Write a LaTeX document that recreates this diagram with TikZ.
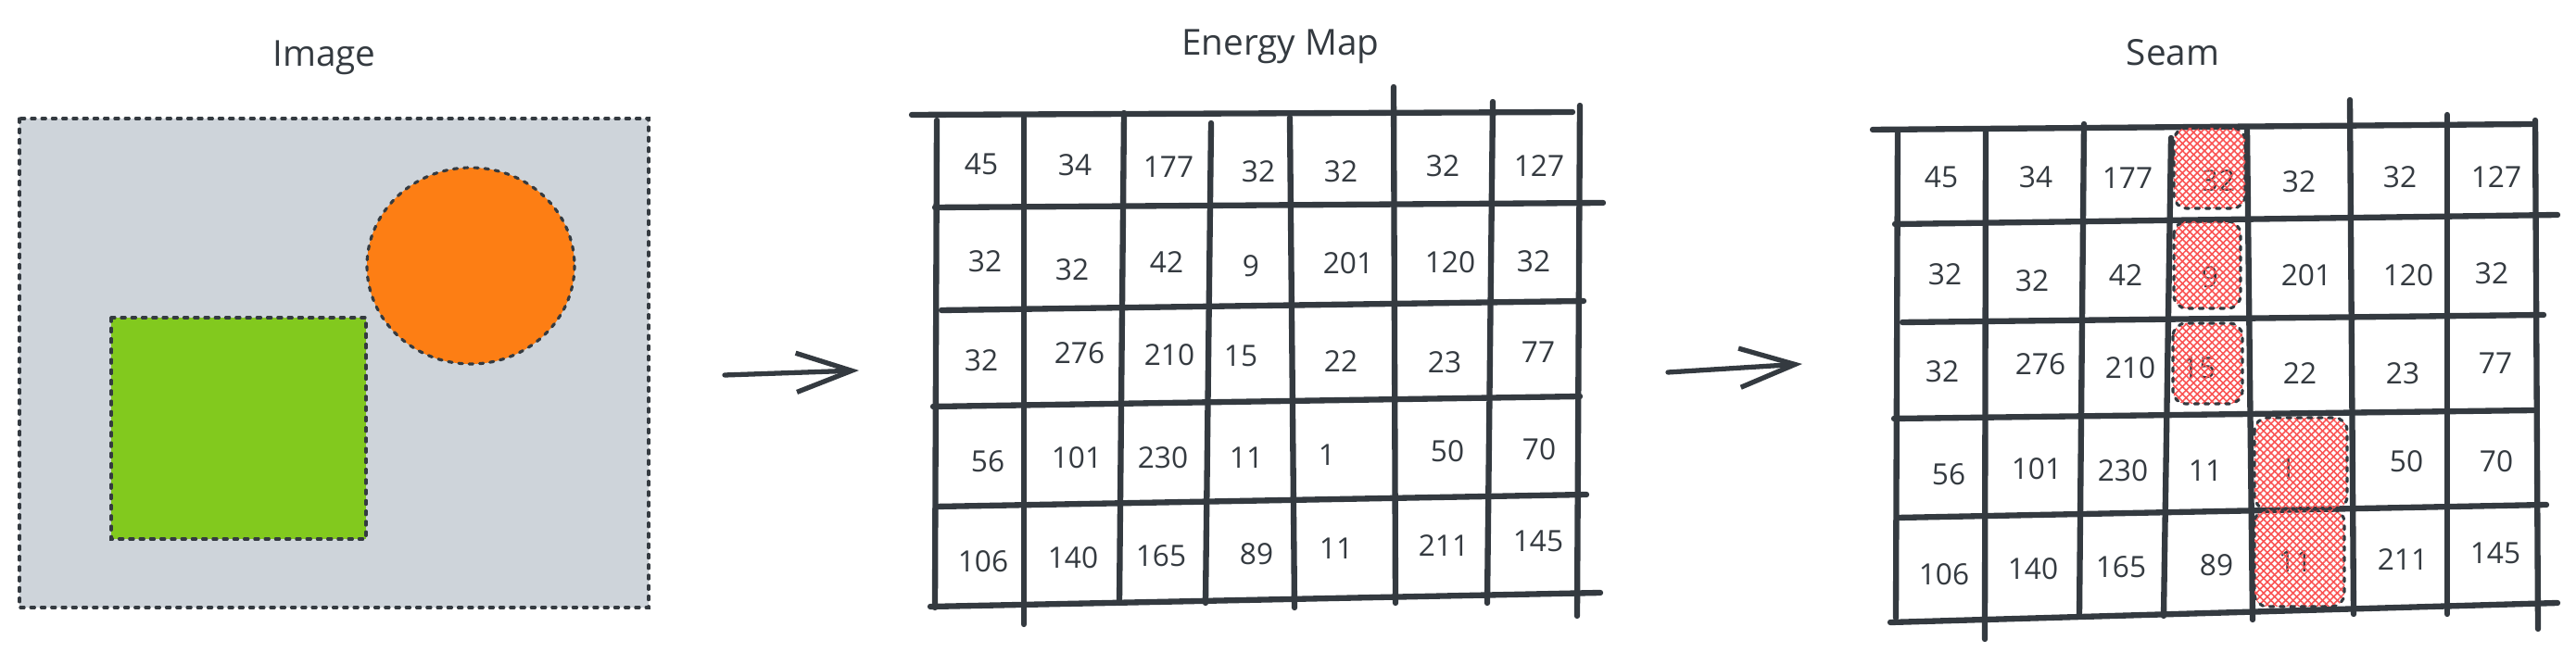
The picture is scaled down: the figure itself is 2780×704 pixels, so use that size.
\documentclass[tikz,border=0pt]{standalone}
\usepackage{fontspec}
\setmainfont{Open Sans}
\usetikzlibrary{arrows.meta,patterns.meta}
\definecolor{ink}{HTML}{343A40}
\definecolor{imgbg}{HTML}{CED4DA}
\definecolor{grn}{HTML}{82C91E}
\definecolor{org}{HTML}{FD7E14}
\definecolor{hatchred}{HTML}{FA5252}
\tikzset{
  gridline/.style={ink, line width=1.8pt, line cap=round},
  num/.style={text=ink, font=\fontsize{9}{9}\selectfont, inner sep=0pt},
  ttl/.style={text=ink, font=\fontsize{11}{11}\selectfont, inner sep=0pt},
  dashedge/.style={ink, line width=0.9pt, dash pattern=on 1.2pt off 2pt, line cap=round},
  hatchA/.style={pattern={Lines[angle=45,distance=1.6pt,line width=0.45pt]}, pattern color=hatchred},
  hatchB/.style={pattern={Lines[angle=-45,distance=1.6pt,line width=0.45pt]}, pattern color=hatchred},
  flow/.style={ink, line width=1.5pt, line cap=round, -{Straight Barb[length=17pt,width=12pt]}},
}
\begin{document}
\begin{tikzpicture}[x=0.01cm,y=-0.01cm]
\useasboundingbox (0,0) rectangle (2780,704);
\fill[white] (0,0) rectangle (2780,704);

% ---------- titles ----------
\node[ttl] (t1) at (350,62) {Image};
\node[ttl] (t2) at (1382,50) {Energy Map};
\node[ttl] (t3) at (2345,57) {Seam};

% ---------- image panel ----------
\fill[imgbg] (21,128) rectangle (700,656);
\draw[dashedge] (21,128) rectangle (700,656);
\fill[grn] (120,343) rectangle (395,582);
\draw[dashedge] (120,343) rectangle (395,582);
\fill[org] (508,287) ellipse [x radius=112, y radius=106];
\draw[dashedge] (508,287) ellipse [x radius=112, y radius=106];

% ---------- arrows ----------
\coordinate (a1s) at (782,405);
\coordinate (a1e) at (927,400);
\coordinate (a2s) at (1800,402);
\coordinate (a2e) at (1945,393);
\draw[flow] (a1s) -- (a1e);
\draw[flow] (a2s) -- (a2e);

% ---------- energy map grid ----------
\draw[gridline] (984,124) -- (1697,121);
\draw[gridline] (1009,224) -- (1730,219);
\draw[gridline] (1016,335) -- (1709,325);
\draw[gridline] (1007,439) -- (1705,428);
\draw[gridline] (1010,547) -- (1712,534);
\draw[gridline] (1004,655) -- (1727,640);
\draw[gridline] (1011,130) -- (1009,656);
\draw[gridline] (1105,127) -- (1105,674);
\draw[gridline] (1213,122) -- (1208,651);
\draw[gridline] (1307,133) -- (1301,651);
\draw[gridline] (1392,127) -- (1397,656);
\draw[gridline] (1504,94) -- (1506,651);
\draw[gridline] (1611,110) -- (1605,651);
\draw[gridline] (1705,114) -- (1702,665);

\foreach \x/\y/\t [count=\i] in {
  1059/177/45, 1160/178/34, 1261/180/177, 1358/185/32, 1447/185/32, 1557/179/32, 1661/179/127,
  1063/282/32, 1157/291/32, 1259/283/42, 1350/287/9, 1455/284/201, 1565/283/120, 1655/282/32,
  1059/389/32, 1165/381/276, 1262/383/210, 1339/384/15, 1447/390/22, 1559/391/23, 1660/380/77,
  1066/498/56, 1162/494/101, 1255/494/230, 1345/494/11, 1432/491/1, 1562/487/50, 1661/485/70,
  1061/606/106, 1158/602/140, 1253/600/165, 1356/598/89, 1442/592/11, 1558/589/211, 1660/584/145}
  \node[num] (e\i) at (\x,\y) {\t};

% ---------- seam grid ----------
\draw[gridline] (2021,140) -- (2732,134);
\draw[gridline] (2045,242) -- (2760,232);
\draw[gridline] (2053,348) -- (2745,340);
\draw[gridline] (2044,452) -- (2734,443);
\draw[gridline] (2048,559) -- (2748,545);
\draw[gridline] (2040,672) -- (2760,651);
\draw[gridline] (2048,142) -- (2046,667);
\draw[gridline] (2143,140) -- (2142,690);
\draw[gridline] (2249,134) -- (2244,665);
\draw[gridline] (2343,149) -- (2335,665);
\draw[gridline] (2425,140) -- (2431,669);
\draw[gridline] (2536,108) -- (2540,663);
\draw[gridline] (2641,124) -- (2641,663);
\draw[gridline] (2736,130) -- (2739,679);

\foreach \x/\y/\t [count=\i] in {
  2095/191/45, 2197/191/34, 2296/192/177, 2394/195/32, 2481/196/32, 2590/191/32, 2694/191/127,
  2099/296/32, 2193/303/32, 2294/297/42, 2385/299/9, 2489/297/201, 2599/297/120, 2689/295/32,
  2096/401/32, 2202/393/276, 2299/397/210, 2373/397/15, 2482/403/22, 2593/403/23, 2693/392/77,
  2103/512/56, 2198/506/101, 2291/508/230, 2380/508/11, 2469/506/1, 2597/498/50, 2694/498/70,
  2098/620/106, 2194/614/140, 2289/612/165, 2392/610/89, 2477/606/11, 2593/604/211, 2693/597/145}
  \node[num] (s\i) at (\x,\y) {\t};

% ---------- seam highlight ----------
\foreach \xa/\ya/\xb/\yb in {2346/138/2423/225, 2346/239/2418/333, 2345/349/2420/436,
                            2433/451/2533/550, 2433/550/2530/655} {
  \path[hatchA, rounded corners=4pt] (\xa,\ya) rectangle (\xb,\yb);
  \path[hatchB, rounded corners=4pt] (\xa,\ya) rectangle (\xb,\yb);
  \draw[dashedge, rounded corners=4pt] (\xa,\ya) rectangle (\xb,\yb);
}
\end{tikzpicture}
\end{document}
